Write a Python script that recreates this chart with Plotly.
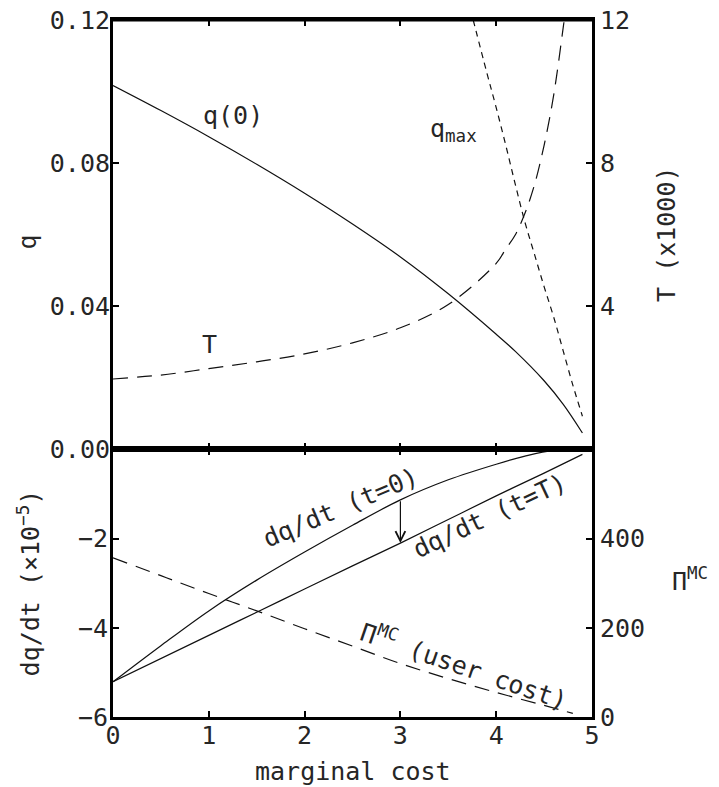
import numpy as np
import plotly.graph_objects as go

# ---------------- data ----------------
MC_Q0 = [0.0, 0.5, 1.0, 1.5, 2.0, 2.5, 3.0, 3.5, 4.0, 4.2, 4.5, 4.7, 4.9]
Q0 = [0.1017, 0.0947, 0.0874, 0.0797, 0.0716, 0.0630, 0.0538, 0.0435, 0.0322, 0.0274, 0.0192, 0.0126, 0.0046]

MC_QMAX = [3.76, 3.9, 4.0, 4.1, 4.2, 4.3, 4.4, 4.5, 4.6, 4.7, 4.8, 4.9]
QMAX = [0.1200, 0.1055, 0.0955, 0.0850, 0.0740, 0.0635, 0.0545, 0.0455, 0.0370, 0.0275, 0.0180, 0.0093]

MC_T = [0.0, 0.5, 1.0, 1.5, 2.0, 2.5, 3.0, 3.5, 4.0, 4.1, 4.2, 4.3, 4.4, 4.5, 4.6, 4.7, 4.72]
T_THOUSANDS = [1.97, 2.08, 2.26, 2.45, 2.67, 2.98, 3.40, 4.05, 5.2, 5.6, 6.0, 6.6, 7.4, 8.5, 9.9, 11.8, 12.2]

MC_DQ = [0.0, 0.5, 1.0, 1.5, 2.0, 2.5, 3.0, 3.5, 4.0, 4.3, 4.6, 4.9]
DQDT_T0 = [-5.21, -4.40, -3.62, -2.93, -2.30, -1.70, -1.13, -0.68, -0.33, -0.15, -0.02, 0.0]

MC_DQT = [0.0, 1.0, 1.5, 2.0, 2.5, 3.0, 3.5, 4.0, 4.5, 4.9]
DQDT_TT = [-5.21, -4.17, -3.65, -3.13, -2.61, -2.10, -1.57, -1.04, -0.53, -0.11]

MC_PI = [0.0, 0.5, 1.0, 1.5, 2.0, 2.5, 3.0, 3.5, 4.0, 4.5, 4.8]
PI_MC = [357, 317, 277, 238, 198, 159, 120, 86, 55, 26, 8]

X_TICKS = [0, 1, 2, 3, 4, 5]
Q_TICKS = [0.0, 0.04, 0.08, 0.12]
Q_TICKTEXT = ["0.00", "0.04", "0.08", "0.12"]
T_TICKS = [4, 8, 12]
DQ_TICKS = [-6, -4, -2]
PI_TICKS = [0, 200, 400]
ARROW_X = 3.0

# ---------------- styling ----------------
FONT = "DejaVu Sans Mono"
FS = 25
INK = "#111111"
TXT = "#262626"
SPLIT = 0.3838

fig = go.Figure()

line = dict(color=INK, width=1.2, shape="spline", smoothing=1.0)

fig.add_trace(go.Scatter(x=MC_Q0, y=Q0, mode="lines", line=line, xaxis="x2", yaxis="y2"))
fig.add_trace(go.Scatter(x=MC_QMAX, y=QMAX, mode="lines",
                         line=dict(line, dash="6px,5px"), xaxis="x2", yaxis="y2"))
fig.add_trace(go.Scatter(x=MC_T, y=T_THOUSANDS, mode="lines",
                         line=dict(line, dash="15px,9px"), xaxis="x2", yaxis="y3"))

fig.add_trace(go.Scatter(x=MC_DQ, y=DQDT_T0, mode="lines", line=line, xaxis="x", yaxis="y"))
fig.add_trace(go.Scatter(x=MC_DQT, y=DQDT_TT, mode="lines", line=line, xaxis="x", yaxis="y"))
fig.add_trace(go.Scatter(x=MC_PI, y=PI_MC, mode="lines",
                         line=dict(line, dash="15px,9px"), xaxis="x", yaxis="y4"))

axis_common = dict(showline=True, linewidth=3, linecolor="black", ticks="inside",
                   ticklen=6, tickwidth=1.5, tickcolor="black", showgrid=False,
                   zeroline=False, automargin=False, ticklabeloverflow="allow",
                   tickfont=dict(family=FONT, size=FS, color=TXT))

fig.update_layout(
    width=719, height=787,
    margin=dict(l=113, r=127, t=20, b=70, autoexpand=False),
    paper_bgcolor="white", plot_bgcolor="white",
    showlegend=False,
    xaxis=dict(axis_common, domain=[0, 1], anchor="y", range=[0, 5],
               tickvals=X_TICKS, mirror="ticks", ticklabelstandoff=-6),
    xaxis2=dict(axis_common, domain=[0, 1], anchor="y2", range=[0, 5],
                tickvals=X_TICKS, mirror="ticks", showticklabels=False, matches="x"),
    yaxis=dict(axis_common, domain=[0, SPLIT], anchor="x", range=[-6, 0],
               tickvals=DQ_TICKS, ticklabelstandoff=-3),
    yaxis2=dict(axis_common, domain=[SPLIT, 1], anchor="x2", range=[0, 0.12],
                tickvals=Q_TICKS, ticktext=Q_TICKTEXT, ticklabelstandoff=-5),
    yaxis3=dict(axis_common, overlaying="y2", side="right", anchor="x2",
                range=[0, 12], tickvals=T_TICKS),
    yaxis4=dict(axis_common, overlaying="y", side="right", anchor="x",
                range=[0, 600], tickvals=PI_TICKS),
)

# top frame line of the upper panel (guarantees the closed box)
fig.add_shape(type="line", xref="x2 domain", yref="y2 domain", x0=0, x1=1, y0=1, y1=1,
              line=dict(color="black", width=3), layer="above")

txt = dict(family=FONT, size=FS, color=TXT)
C = dict(xanchor="center", yanchor="middle", showarrow=False, font=txt)

annotations = [
    # axis titles
    dict(C, text="q", xref="paper", yref="paper", x=-0.178, y=(SPLIT + 1) / 2 - 0.01,
         textangle=-90),
    dict(C, text="dq/dt (×10<sup>−5</sup>)", xref="paper", yref="paper", x=-0.175,
         y=SPLIT / 2, textangle=-90),
    dict(C, text="T (x1000)", xref="paper", yref="paper", x=1.157, y=(SPLIT + 1) / 2,
         textangle=-90),
    dict(C, text="Π<sup>MC</sup>", xref="paper", yref="paper", x=1.205, y=0.197),
    dict(C, text="marginal cost", xref="paper", yref="paper", x=0.5, y=-0.078),
    # curve labels, top panel
    dict(C, text="q(0)", xref="x2", yref="y2", x=1.25, y=0.0932),
    dict(C, text="q<sub>max</sub>", xref="x2", yref="y2", x=3.55, y=0.0892),
    dict(C, text="T", xref="x2", yref="y2", x=1.01, y=0.0292),
    # curve labels, bottom panel
    dict(C, text="dq/dt (t=0)", xref="x", yref="y", x=2.38, y=-1.31, textangle=-23),
    dict(C, text="dq/dt (t=T)", xref="x", yref="y", x=3.94, y=-1.49, textangle=-25),
    dict(C, text="Π<sup>MC</sup> (user cost)", xref="x", yref="y", x=3.67, y=-4.84,
         textangle=19),
]

# arrow from the t=0 curve down to the t=T curve
y_from = float(np.interp(ARROW_X, MC_DQ, DQDT_T0))
y_to = float(np.interp(ARROW_X, MC_DQT, DQDT_TT))
annotations.append(dict(x=ARROW_X, y=y_to, ax=ARROW_X, ay=y_from, xref="x", yref="y",
                        axref="x", ayref="y", text="", showarrow=True, arrowhead=5,
                        arrowsize=1.6, arrowwidth=1.2, arrowcolor=INK))

fig.update_layout(annotations=annotations)

# remove the browser's default 8px body margin so the figure fills the window exactly
fig.write_html("out.html",
               config={"displayModeBar": False},
               post_script="document.body.style.margin='0';document.body.style.padding='0';")
